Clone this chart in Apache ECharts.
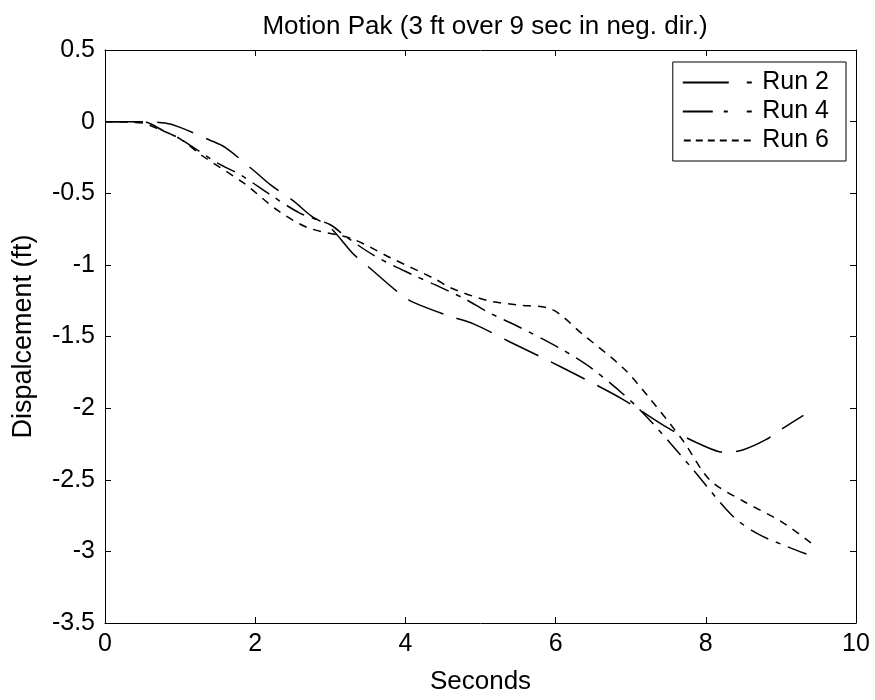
<!DOCTYPE html>
<html>
<head>
<meta charset="utf-8">
<script src="https://cdn.jsdelivr.net/npm/echarts@6/dist/echarts.min.js"></script>
<style>html,body{margin:0;padding:0;background:#fff;}#chart{width:875px;height:700px;}</style>
</head>
<body>
<div id="chart"></div>
<script>
// Data
var run2X = [0, 0.5, 0.8, 1.0, 1.4, 1.6, 2.0, 2.2, 2.5, 2.75, 3.0, 3.3, 3.5, 3.9, 4.1, 4.6, 4.9, 5.4, 6.1, 6.9, 7.5, 8.0, 8.25, 8.5, 8.8, 9.0, 9.3];
var run2Y = [0, 0, -0.01, -0.04, -0.13, -0.18, -0.35, -0.44, -0.55, -0.66, -0.74, -0.92, -1.01, -1.19, -1.26, -1.36, -1.41, -1.54, -1.72, -1.94, -2.14, -2.27, -2.31, -2.29, -2.22, -2.15, -2.05];
var run4X = [0, 0.5, 0.8, 1.0, 1.5, 1.8, 2.2, 2.6, 3.0, 3.2, 3.6, 4.1, 4.4, 4.8, 5.1, 5.5, 6.05, 6.5, 7.1, 7.8, 8.35, 8.7, 9.1, 9.35];
var run4Y = [0, 0, -0.07, -0.12, -0.29, -0.37, -0.51, -0.64, -0.72, -0.8, -0.94, -1.07, -1.14, -1.24, -1.33, -1.43, -1.58, -1.73, -2.0, -2.41, -2.75, -2.88, -2.97, -3.02];
var run6X = [0, 0.5, 0.7, 1.0, 1.3, 1.85, 2.3, 2.7, 3.3, 3.8, 4.4, 4.6, 5.1, 5.5, 5.95, 6.35, 6.9, 7.25, 7.7, 8.05, 8.5, 9.0, 9.4];
var run6Y = [0, -0.01, -0.05, -0.12, -0.24, -0.43, -0.62, -0.74, -0.82, -0.95, -1.1, -1.16, -1.25, -1.28, -1.31, -1.48, -1.72, -1.93, -2.23, -2.5, -2.65, -2.79, -2.94];
var seriesNames = ['Run 2', 'Run 4', 'Run 6'];
var xTicks = [0, 2, 4, 6, 8, 10];
var yTicks = [0.5, 0, -0.5, -1, -1.5, -2, -2.5, -3, -3.5];

function pairs(xs, ys) { return xs.map(function (x, i) { return [x, ys[i]]; }); }

var FONT = '"Liberation Sans", Arial, sans-serif';
var chart = echarts.init(document.getElementById('chart'), null, { renderer: 'canvas' });
var dashes = [[38, 14], [20, 8, 5, 8], [8, 7]];
var legendIcons = [
  'path://M0,0H46V2H0Z M64,0H69V2H64Z',
  'path://M0,0H30V2H0Z M41,0H45V2H41Z M64,0H69V2H64Z',
  'path://M0,0H7V2H0Z M12,0H19V2H12Z M24,0H31V2H24Z M36,0H43V2H36Z M48,0H55V2H48Z M60,0H67V2H60Z'
];
var data = [pairs(run2X, run2Y), pairs(run4X, run4Y), pairs(run6X, run6Y)];

function axisBase() {
  return {
    axisLine: { show: true, onZero: false, lineStyle: { color: '#000', width: 1 } },
    axisTick: { show: true, inside: true, length: 6, lineStyle: { color: '#000' } },
    splitLine: { show: false }
  };
}

chart.setOption({
  backgroundColor: '#fff',
  animation: false,
  title: {
    text: 'Motion Pak (3 ft over 9 sec in neg. dir.)',
    left: 480, top: 9, textAlign: 'center',
    textStyle: { fontFamily: FONT, fontSize: 26, fontWeight: 'normal', color: '#000' }
  },
  grid: { left: 105, right: 19, top: 50, bottom: 69 },
  legend: {
    right: 29, top: 62, orient: 'vertical',
    data: seriesNames.map(function (n, i) { return { name: n, icon: legendIcons[i] }; }),
    itemWidth: 70, itemHeight: 2, itemGap: 4,
    backgroundColor: '#fff', borderColor: '#000', borderWidth: 1,
    padding: [8, 17, 8, 10],
    textStyle: { fontFamily: FONT, fontSize: 25, color: '#000', padding: [0, 0, 0, 5] }
  },
  xAxis: [
    Object.assign(axisBase(), {
      type: 'value', min: 0, max: 10, interval: 2, position: 'bottom',
      name: 'Seconds', nameLocation: 'middle', nameGap: 46,
      nameTextStyle: { fontFamily: FONT, fontSize: 26, color: '#000' },
      axisLabel: { fontFamily: FONT, fontSize: 25, color: '#000', margin: 9 }
    }),
    Object.assign(axisBase(), {
      type: 'value', min: 0, max: 10, interval: 2, position: 'top',
      axisLabel: { show: false }
    })
  ],
  yAxis: [
    Object.assign(axisBase(), {
      type: 'value', min: -3.5, max: 0.5, interval: 0.5, position: 'left',
      name: 'Dispalcement (ft)', nameLocation: 'middle', nameGap: 68,
      nameTextStyle: { fontFamily: FONT, fontSize: 27, color: '#000' },
      axisLabel: { fontFamily: FONT, fontSize: 25, color: '#000', margin: 10 }
    }),
    Object.assign(axisBase(), {
      type: 'value', min: -3.5, max: 0.5, interval: 0.5, position: 'right',
      axisLabel: { show: false }
    })
  ],
  series: seriesNames.map(function (n, i) {
    return {
      name: n, type: 'line', data: data[i], smooth: 0.3,
      showSymbol: false, symbol: 'none',
      lineStyle: { color: '#000', width: 1.5, type: dashes[i] },
      itemStyle: { color: '#000' }
    };
  })
});
</script>
</body>
</html>
